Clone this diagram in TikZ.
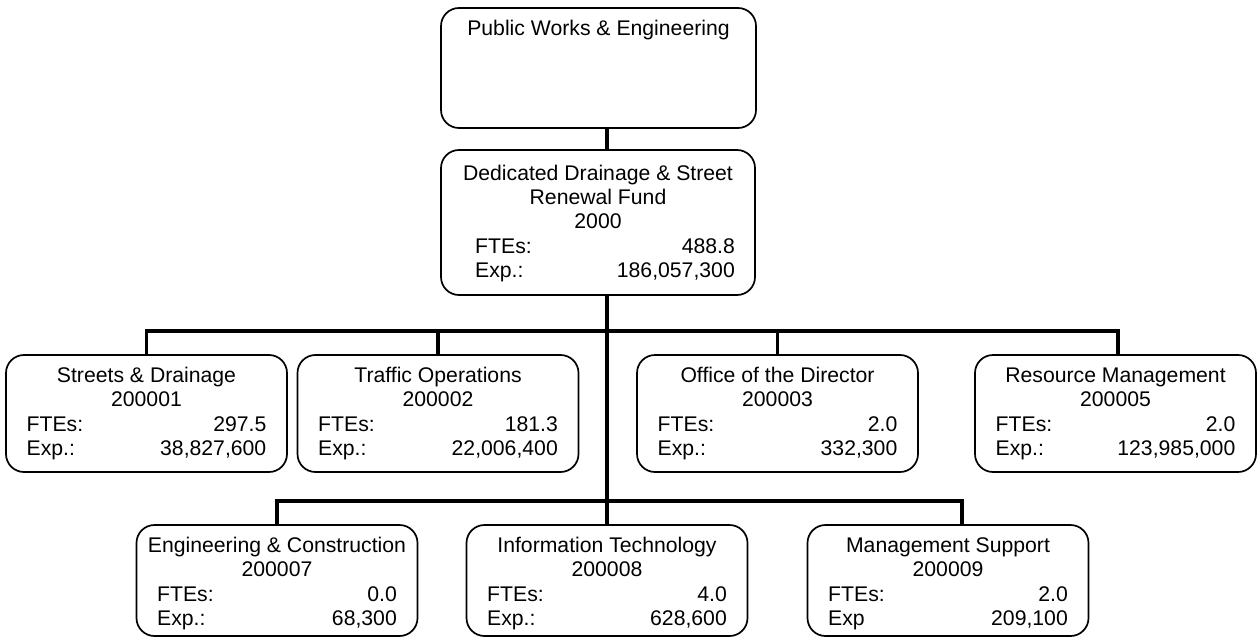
\documentclass[tikz,border=0pt]{standalone}
\usepackage{fontspec}
\setmainfont{Liberation Sans}
\tikzset{
  x=1pt, y=-1pt,
  orgbox/.style={draw=black, line width=1.7pt, rounded corners=18pt, inner sep=0pt, fill=white},
  txt/.style={inner sep=0pt, font=\fontsize{21.2}{24}\selectfont, text=black},
  link/.style={draw=black, line width=3.6pt},
}
% name, cx, top, height, title, code, fte, explabel, exp
\newcommand{\orgunit}[9]{%
  \node[orgbox, minimum width=281pt, minimum height=#4pt] (#1) at (#2, #3+#4/2) {};
  \node[txt, anchor=base] (#1-title) at (#2, #3+27) {#5};
  \node[txt, anchor=base] (#1-code) at (#2, #3+51) {#6};
  \node[txt, anchor=base west] (#1-fl) at (#2-120, #3+76) {FTEs:};
  \node[txt, anchor=base east] (#1-fv) at (#2+120, #3+76) {#7};
  \node[txt, anchor=base west] (#1-el) at (#2-120, #3+100) {#8};
  \node[txt, anchor=base east] (#1-ev) at (#2+120, #3+100) {#9};
}
\begin{document}
\begin{tikzpicture}
\useasboundingbox (0,0) rectangle (1257,639);
\coordinate (spine) at (607,0);
\coordinate (bus1) at (607,331);
\coordinate (bus2) at (607,501);

\node[orgbox, minimum width=315pt, minimum height=120pt] (pw) at (598.5,68) {};
\node[orgbox, minimum width=314pt, minimum height=145pt] (ded) at (598,222.5) {};

\orgunit{sd}{146.5}{355}{117}{Streets \& Drainage}{200001}{297.5}{Exp.:}{38,827,600}
\orgunit{to}{438}{355}{117}{Traffic Operations}{200002}{181.3}{Exp.:}{22,006,400}
\orgunit{od}{777.5}{355}{117}{Office of the Director}{200003}{2.0}{Exp.:}{332,300}
\orgunit{rm}{1115.5}{355}{117}{Resource Management}{200005}{2.0}{Exp.:}{123,985,000}

\orgunit{ec}{277}{525}{111}{Engineering \& Construction}{200007}{0.0}{Exp.:}{68,300}
\orgunit{it}{607}{525}{111}{Information Technology}{200008}{4.0}{Exp.:}{628,600}
\orgunit{ms}{948}{525}{111}{Management Support}{200009}{2.0}{Exp}{209,100}

\node[txt, anchor=base] (pw-title) at (598.5,35.5) {Public Works \& Engineering};
\node[txt, anchor=base] (ded-t1) at (598,180.5) {Dedicated Drainage \& Street};
\node[txt, anchor=base] (ded-t2) at (598,204.5) {Renewal Fund};
\node[txt, anchor=base] (ded-t3) at (598,228.5) {2000};
\node[txt, anchor=base west] (ded-fl) at (475,253.5) {FTEs:};
\node[txt, anchor=base east] (ded-fv) at (735,253.5) {488.8};
\node[txt, anchor=base west] (ded-el) at (475,277.5) {Exp.:};
\node[txt, anchor=base east] (ded-ev) at (735,277.5) {186,057,300};

% connectors
\draw[link] (pw.south -| spine) -- (ded.north -| spine);
\draw[link] (ded.south -| spine) -- (it.north);
\draw[link] (sd.north) -- (sd.north |- bus1) -- ([xshift=2.5pt]rm.north |- bus1) -- ([xshift=2.5pt]rm.north);
\draw[link] (to.north) -- (to.north |- bus1);
\draw[link] (od.north) -- (od.north |- bus1);
\draw[link] (ec.north) -- (ec.north |- bus2) -- ([xshift=14pt]ms.north |- bus2) -- ([xshift=14pt]ms.north);
\end{tikzpicture}
\end{document}
